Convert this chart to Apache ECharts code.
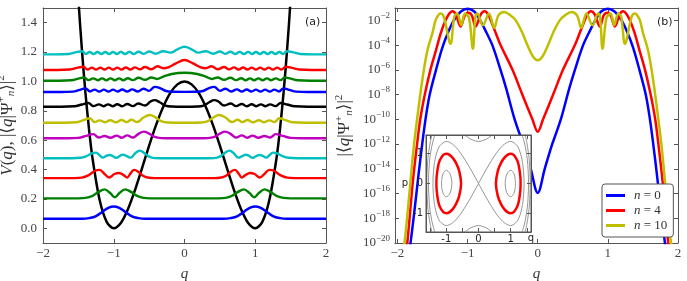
<!DOCTYPE html>
<html>
<head>
<meta charset="utf-8">
<script src="https://cdn.jsdelivr.net/npm/echarts@6/dist/echarts.min.js"></script>
<style>
html, body { margin: 0; padding: 0; background: #fff; }
#chart { width: 687px; height: 281px; }
</style>
</head>
<body>
<div id="chart"></div>
<script>
// ---- data ----
var qTicks = [-2, -1, 0, 1, 2];
var vTicks = [0, 0.2, 0.4, 0.6, 0.8, 1.0, 1.2, 1.4];
var logTicks = [-20, -18, -16, -14, -12, -10, -8, -6, -4, -2];
var insetTicks = [-1.5, -1, -0.5, 0, 0.5, 1, 1.5];
var insetLabels = [-1, 0, 1];

// panel (a): double-well potential
var potential = [[-1.7,3.572],[-1.6,2.434],[-1.5,1.563],[-1.45,1.216],[-1.4,0.922],[-1.35,0.677],[-1.3,0.476],[-1.2,0.194],[-1.1,0.044],[-1,0],[-0.9,0.036],[-0.8,0.13],[-0.7,0.26],[-0.6,0.41],[-0.5,0.563],[-0.4,0.706],[-0.3,0.828],[-0.2,0.922],[-0.1,0.98],[0,1],[0.1,0.98],[0.2,0.922],[0.3,0.828],[0.4,0.706],[0.5,0.563],[0.6,0.41],[0.7,0.26],[0.8,0.13],[0.9,0.036],[1,0],[1.1,0.044],[1.2,0.194],[1.3,0.476],[1.35,0.677],[1.4,0.922],[1.45,1.216],[1.5,1.563],[1.6,2.434],[1.7,3.572]];

// panel (a): level of each state and |psi|^2 above that level
var levels = [0.065, 0.204, 0.342, 0.477, 0.613, 0.719, 0.828, 0.928, 1.005, 1.078, 1.184];
var stateColors = ['#0000ff', '#008000', '#ff0000', '#00bfbf', '#bf00bf', '#bfbf00', '#000000', '#0000ff', '#008000', '#ff0000', '#00bfbf'];

var dens0 = [[-2,0],[-1.45,0],[-1.35,0.004],[-1.25,0.018],[-1.15,0.052],[-1.07,0.076],[-1,0.084],[-0.93,0.076],[-0.85,0.052],[-0.75,0.018],[-0.65,0.004],[-0.55,0],[0,0],[0.55,0],[0.65,0.004],[0.75,0.018],[0.85,0.052],[0.93,0.076],[1,0.084],[1.07,0.076],[1.15,0.052],[1.25,0.018],[1.35,0.004],[1.45,0],[2,0]];
var dens2 = [[-2,0],[-1.5,0],[-1.4,0.003],[-1.3,0.017],[-1.22,0.042],[-1.13,0.061],[-1.05,0.036],[-0.985,0.008],[-0.92,0.036],[-0.84,0.061],[-0.75,0.042],[-0.67,0.017],[-0.58,0.003],[-0.48,0],[0,0],[0.48,0],[0.58,0.003],[0.67,0.017],[0.75,0.042],[0.84,0.061],[0.92,0.036],[0.985,0.008],[1.05,0.036],[1.13,0.061],[1.22,0.042],[1.3,0.017],[1.4,0.003],[1.5,0],[2,0]];
var dens4 = [[-2,0],[-1.55,0],[-1.45,0.003],[-1.36,0.018],[-1.27,0.048],[-1.2,0.056],[-1.13,0.028],[-1.065,0.004],[-0.99,0.028],[-0.925,0.035],[-0.86,0.02],[-0.81,0.004],[-0.76,0.034],[-0.71,0.056],[-0.65,0.042],[-0.58,0.014],[-0.5,0.002],[-0.42,0],[0,0],[0.42,0],[0.5,0.002],[0.58,0.014],[0.65,0.042],[0.71,0.056],[0.76,0.034],[0.81,0.004],[0.86,0.02],[0.925,0.035],[0.99,0.028],[1.065,0.004],[1.13,0.028],[1.2,0.056],[1.27,0.048],[1.36,0.018],[1.45,0.003],[1.55,0],[2,0]];
var dens6 = [[-2,0],[-1.6,0],[-1.47,0.003],[-1.38,0.016],[-1.31,0.033],[-1.25,0.038],[-1.2,0.02],[-1.155,0.004],[-1.105,0.016],[-1.055,0.022],[-1.005,0.012],[-0.96,0.003],[-0.912,0.017],[-0.865,0.025],[-0.815,0.014],[-0.76,0.004],[-0.7,0.032],[-0.635,0.052],[-0.57,0.036],[-0.5,0.011],[-0.42,0.001],[-0.34,0],[0,0],[0.34,0],[0.42,0.001],[0.5,0.011],[0.57,0.036],[0.635,0.052],[0.7,0.032],[0.76,0.004],[0.815,0.014],[0.865,0.025],[0.912,0.017],[0.96,0.003],[1.005,0.012],[1.055,0.022],[1.105,0.016],[1.155,0.004],[1.2,0.02],[1.25,0.038],[1.31,0.033],[1.38,0.016],[1.47,0.003],[1.6,0],[2,0]];
var dens8 = [[-2,0],[-1.65,0],[-1.5,0.003],[-1.39,0.016],[-1.29,0.028],[-1.21,0.005],[-1.13,0.016],[-1.045,0.004],[-0.96,0.018],[-0.885,0.004],[-0.81,0.02],[-0.73,0.005],[-0.65,0.03],[-0.575,0.045],[-0.5,0.032],[-0.42,0.009],[-0.33,0.001],[-0.25,0],[0,0],[0.25,0],[0.33,0.001],[0.42,0.009],[0.5,0.032],[0.575,0.045],[0.65,0.03],[0.73,0.005],[0.81,0.02],[0.885,0.004],[0.96,0.018],[1.045,0.004],[1.13,0.016],[1.21,0.005],[1.29,0.028],[1.39,0.016],[1.5,0.003],[1.65,0],[2,0]];
var dens10 = [[-2,0],[-1.7,0],[-1.53,0.003],[-1.43,0.018],[-1.34,0.03],[-1.27,0.005],[-1.2,0.016],[-1.125,0.003],[-1.05,0.017],[-0.97,0.003],[-0.89,0.018],[-0.82,0.004],[-0.75,0.02],[-0.67,0.005],[-0.58,0.035],[-0.49,0.052],[-0.41,0.036],[-0.33,0.011],[-0.24,0.001],[-0.15,0],[0,0],[0.15,0],[0.24,0.001],[0.33,0.011],[0.41,0.036],[0.49,0.052],[0.58,0.035],[0.67,0.005],[0.75,0.02],[0.82,0.004],[0.89,0.018],[0.97,0.003],[1.05,0.017],[1.125,0.003],[1.2,0.016],[1.27,0.005],[1.34,0.03],[1.43,0.018],[1.53,0.003],[1.7,0],[2,0]];
var dens12 = [[-2,0],[-1.75,0],[-1.56,0.003],[-1.45,0.015],[-1.36,0.025],[-1.285,0.004],[-1.21,0.016],[-1.145,0.003],[-1.08,0.016],[-1.015,0.003],[-0.95,0.017],[-0.88,0.003],[-0.81,0.018],[-0.73,0.004],[-0.655,0.022],[-0.56,0.008],[-0.48,0.035],[-0.42,0.045],[-0.35,0.03],[-0.27,0.008],[-0.18,0.001],[-0.1,0],[0.1,0],[0.18,0.001],[0.27,0.008],[0.35,0.03],[0.42,0.045],[0.48,0.035],[0.56,0.008],[0.655,0.022],[0.73,0.004],[0.81,0.018],[0.88,0.003],[0.95,0.017],[1.015,0.003],[1.08,0.016],[1.145,0.003],[1.21,0.016],[1.285,0.004],[1.36,0.025],[1.45,0.015],[1.56,0.003],[1.75,0],[2,0]];
var dens14 = [[-2,0],[-1.75,0],[-1.58,0.003],[-1.48,0.015],[-1.4,0.025],[-1.335,0.004],[-1.27,0.016],[-1.205,0.003],[-1.14,0.016],[-1.075,0.003],[-1.01,0.016],[-0.945,0.003],[-0.88,0.017],[-0.81,0.003],[-0.74,0.018],[-0.66,0.004],[-0.58,0.022],[-0.5,0.008],[-0.42,0.035],[-0.34,0.025],[-0.26,0.007],[-0.17,0.002],[0,0.001],[0.17,0.002],[0.26,0.007],[0.34,0.025],[0.42,0.035],[0.5,0.008],[0.58,0.022],[0.66,0.004],[0.74,0.018],[0.81,0.003],[0.88,0.017],[0.945,0.003],[1.01,0.016],[1.075,0.003],[1.14,0.016],[1.205,0.003],[1.27,0.016],[1.335,0.004],[1.4,0.025],[1.48,0.015],[1.58,0.003],[1.75,0],[2,0]];
var dens16 = [[-2,0],[-1.78,0],[-1.6,0.003],[-1.5,0.014],[-1.42,0.022],[-1.355,0.004],[-1.29,0.016],[-1.225,0.003],[-1.165,0.016],[-1.105,0.003],[-1.045,0.016],[-0.985,0.003],[-0.925,0.016],[-0.865,0.003],[-0.8,0.017],[-0.73,0.004],[-0.65,0.02],[-0.56,0.006],[-0.47,0.022],[-0.39,0.012],[-0.3,0.028],[-0.18,0.046],[0,0.054],[0.18,0.046],[0.3,0.028],[0.39,0.012],[0.47,0.022],[0.56,0.006],[0.65,0.02],[0.73,0.004],[0.8,0.017],[0.865,0.003],[0.925,0.016],[0.985,0.003],[1.045,0.016],[1.105,0.003],[1.165,0.016],[1.225,0.003],[1.29,0.016],[1.355,0.004],[1.42,0.022],[1.5,0.014],[1.6,0.003],[1.78,0],[2,0]];
var dens18 = [[-2,0],[-1.8,0],[-1.62,0.003],[-1.52,0.014],[-1.43,0.022],[-1.37,0.003],[-1.31,0.016],[-1.25,0.003],[-1.19,0.016],[-1.13,0.003],[-1.07,0.016],[-1.01,0.003],[-0.95,0.016],[-0.89,0.003],[-0.83,0.017],[-0.765,0.003],[-0.7,0.018],[-0.63,0.004],[-0.56,0.02],[-0.47,0.005],[-0.38,0.025],[-0.3,0.012],[-0.23,0.018],[-0.12,0.045],[0,0.068],[0.12,0.045],[0.23,0.018],[0.3,0.012],[0.38,0.025],[0.47,0.005],[0.56,0.02],[0.63,0.004],[0.7,0.018],[0.765,0.003],[0.83,0.017],[0.89,0.003],[0.95,0.016],[1.01,0.003],[1.07,0.016],[1.13,0.003],[1.19,0.016],[1.25,0.003],[1.31,0.016],[1.37,0.003],[1.43,0.022],[1.52,0.014],[1.62,0.003],[1.8,0],[2,0]];
var dens20 = [[-2,0],[-1.82,0],[-1.64,0.003],[-1.54,0.014],[-1.45,0.022],[-1.395,0.003],[-1.34,0.016],[-1.285,0.003],[-1.23,0.016],[-1.175,0.003],[-1.12,0.016],[-1.065,0.003],[-1.01,0.016],[-0.955,0.003],[-0.9,0.017],[-0.84,0.003],[-0.78,0.017],[-0.715,0.003],[-0.65,0.018],[-0.575,0.004],[-0.5,0.02],[-0.41,0.005],[-0.3,0.022],[-0.2,0.012],[-0.1,0.035],[0,0.052],[0.1,0.035],[0.2,0.012],[0.3,0.022],[0.41,0.005],[0.5,0.02],[0.575,0.004],[0.65,0.018],[0.715,0.003],[0.78,0.017],[0.84,0.003],[0.9,0.017],[0.955,0.003],[1.01,0.016],[1.065,0.003],[1.12,0.016],[1.175,0.003],[1.23,0.016],[1.285,0.003],[1.34,0.016],[1.395,0.003],[1.45,0.022],[1.54,0.014],[1.64,0.003],[1.82,0],[2,0]];
var densities = [dens0, dens2, dens4, dens6, dens8, dens10, dens12, dens14, dens16, dens18, dens20];

// panel (b): log10 of |<q|psi>|^2
var log0 = [[-2,-26],[-1.9,-23.5],[-1.814,-20],[-1.76,-17.5],[-1.7,-14.5],[-1.647,-12],[-1.6,-10],[-1.54,-8],[-1.45,-6],[-1.36,-4.2],[-1.28,-3],[-1.196,-2],[-1.1,-1.3],[-1,-1.06],[-0.9,-1.3],[-0.82,-2],[-0.73,-3],[-0.647,-4],[-0.53,-6],[-0.45,-7.5],[-0.34,-9.8],[-0.27,-11],[-0.195,-12.2],[-0.1,-14],[0,-15.95],[0.1,-14],[0.195,-12.2],[0.27,-11],[0.34,-9.8],[0.45,-7.5],[0.53,-6],[0.647,-4],[0.73,-3],[0.82,-2],[0.9,-1.3],[1,-1.06],[1.1,-1.3],[1.196,-2],[1.28,-3],[1.36,-4.2],[1.45,-6],[1.54,-8],[1.6,-10],[1.647,-12],[1.7,-14.5],[1.76,-17.5],[1.814,-20],[1.9,-23.5],[2,-26]];
var log4 = [[-2,-26],[-1.93,-23],[-1.86,-20],[-1.78,-15],[-1.72,-12],[-1.675,-10],[-1.61,-8],[-1.53,-6],[-1.45,-4.4],[-1.38,-3],[-1.314,-2],[-1.26,-1.45],[-1.219,-1.27],[-1.17,-1.5],[-1.1,-2.5],[-1.04,-1.6],[-0.99,-1.38],[-0.94,-1.6],[-0.886,-2.5],[-0.81,-1.5],[-0.753,-1.27],[-0.7,-1.6],[-0.67,-2],[-0.6,-3],[-0.53,-4],[-0.36,-6],[-0.22,-8],[-0.076,-10],[0,-11],[0.076,-10],[0.22,-8],[0.36,-6],[0.53,-4],[0.6,-3],[0.67,-2],[0.7,-1.6],[0.753,-1.27],[0.81,-1.5],[0.886,-2.5],[0.94,-1.6],[0.99,-1.38],[1.04,-1.6],[1.1,-2.5],[1.17,-1.5],[1.219,-1.27],[1.26,-1.45],[1.314,-2],[1.38,-3],[1.45,-4.4],[1.53,-6],[1.61,-8],[1.675,-10],[1.72,-12],[1.78,-15],[1.86,-20],[1.93,-23],[2,-26]];
var log10 = [[-2.05,-25],[-1.98,-23],[-1.9,-20],[-1.83,-16],[-1.767,-12.2],[-1.72,-10],[-1.65,-7],[-1.576,-4.5],[-1.5,-3],[-1.457,-2],[-1.42,-1.6],[-1.386,-1.45],[-1.34,-1.7],[-1.243,-3.9],[-1.19,-1.7],[-1.147,-1.45],[-1.09,-2.4],[-1.038,-1.45],[-0.98,-1.8],[-0.924,-4.3],[-0.89,-1.8],[-0.862,-1.45],[-0.781,-2.4],[-0.695,-1.45],[-0.62,-2.6],[-0.56,-1.6],[-0.48,-1.33],[-0.4,-1.55],[-0.314,-2],[-0.22,-3],[-0.147,-4],[-0.07,-4.9],[0,-5.23],[0.07,-4.9],[0.147,-4],[0.22,-3],[0.314,-2],[0.4,-1.55],[0.48,-1.33],[0.56,-1.6],[0.62,-2.6],[0.695,-1.45],[0.781,-2.4],[0.862,-1.45],[0.89,-1.8],[0.924,-4.3],[0.98,-1.8],[1.038,-1.45],[1.09,-2.4],[1.147,-1.45],[1.19,-1.7],[1.243,-3.9],[1.34,-1.7],[1.386,-1.45],[1.42,-1.6],[1.457,-2],[1.5,-3],[1.576,-4.5],[1.65,-7],[1.72,-10],[1.767,-12.2],[1.83,-16],[1.9,-20],[1.98,-23],[2.05,-25]];
var logNames = ['n = 0', 'n = 4', 'n = 10'];
var logColors = ['#0000ff', '#ff0000', '#bfbf00'];

// inset: phase-space contours (q, p)
var orbitSmallL = [[-1.147,0],[-1.14,0.143],[-1.1,0.334],[-1,0.447],[-0.9,0.357],[-0.85,0.214],[-0.827,0],[-0.85,-0.214],[-0.9,-0.357],[-1,-0.447],[-1.1,-0.334],[-1.14,-0.143],[-1.147,0]];
var orbitSmallR = [[1.147,0],[1.14,0.143],[1.1,0.334],[1,0.447],[0.9,0.357],[0.85,0.214],[0.827,0],[0.85,-0.214],[0.9,-0.357],[1,-0.447],[1.1,-0.334],[1.14,-0.143],[1.147,0]];
var orbitRedL = [[-1.307,0],[-1.3,0.219],[-1.25,0.606],[-1.2,0.783],[-1.1,0.955],[-1,1],[-0.9,0.963],[-0.8,0.861],[-0.7,0.693],[-0.6,0.425],[-0.541,0],[-0.6,-0.425],[-0.7,-0.693],[-0.8,-0.861],[-0.9,-0.963],[-1,-1],[-1.1,-0.955],[-1.2,-0.783],[-1.25,-0.606],[-1.3,-0.219],[-1.307,0]];
var orbitRedR = [[1.307,0],[1.3,0.219],[1.25,0.606],[1.2,0.783],[1.1,0.955],[1,1],[0.9,0.963],[0.8,0.861],[0.7,0.693],[0.6,0.425],[0.541,0],[0.6,-0.425],[0.7,-0.693],[0.8,-0.861],[0.9,-0.963],[1,-1],[1.1,-0.955],[1.2,-0.783],[1.25,-0.606],[1.3,-0.219],[1.307,0]];
var separatrixL = [[0,0],[-0.2,0.396],[-0.4,0.767],[-0.6,1.087],[-0.8,1.319],[-1,1.414],[-1.2,1.27],[-1.3,1.023],[-1.35,0.804],[-1.38,0.603],[-1.41,0.218],[-1.414,0],[-1.41,-0.218],[-1.38,-0.603],[-1.35,-0.804],[-1.3,-1.023],[-1.2,-1.27],[-1,-1.414],[-0.8,-1.319],[-0.6,-1.087],[-0.4,-0.767],[-0.2,-0.396],[0,0]];
var separatrixR = [[0,0],[0.2,0.396],[0.4,0.767],[0.6,1.087],[0.8,1.319],[1,1.414],[1.2,1.27],[1.3,1.023],[1.35,0.804],[1.38,0.603],[1.41,0.218],[1.414,0],[1.41,-0.218],[1.38,-0.603],[1.35,-0.804],[1.3,-1.023],[1.2,-1.27],[1,-1.414],[0.8,-1.319],[0.6,-1.087],[0.4,-0.767],[0.2,-0.396],[0,0]];
var outerTop = [[-0.45,1.652],[-0.4,1.609],[-0.3,1.531],[-0.2,1.469],[0,1.414],[0.2,1.469],[0.3,1.531],[0.4,1.609],[0.45,1.652]];
var outerBottom = [[-0.45,-1.652],[-0.4,-1.609],[-0.3,-1.531],[-0.2,-1.469],[0,-1.414],[0.2,-1.469],[0.3,-1.531],[0.4,-1.609],[0.45,-1.652]];
var outerLeft = [[-1.35,1.65],[-1.4,1.469],[-1.45,1.253],[-1.5,0.935],[-1.53,0.636],[-1.554,0],[-1.53,-0.636],[-1.5,-0.935],[-1.45,-1.253],[-1.4,-1.469],[-1.35,-1.65]];
var outerRight = [[1.35,1.65],[1.4,1.469],[1.45,1.253],[1.5,0.935],[1.53,0.636],[1.554,0],[1.53,-0.636],[1.5,-0.935],[1.45,-1.253],[1.4,-1.469],[1.35,-1.65]];
var edgeLeft = [[-1.44,1.67],[-1.5,1.369],[-1.55,1.03],[-1.58,0.722],[-1.607,0],[-1.58,-0.722],[-1.55,-1.03],[-1.5,-1.369],[-1.44,-1.67]];
var edgeRight = [[1.44,1.67],[1.5,1.369],[1.55,1.03],[1.58,0.722],[1.607,0],[1.58,-0.722],[1.55,-1.03],[1.5,-1.369],[1.44,-1.67]];
var grayOrbits = [orbitSmallL, orbitSmallR, separatrixL, separatrixR, outerTop, outerBottom, outerLeft, outerRight, edgeLeft, edgeRight];
var redOrbits = [orbitRedL, orbitRedR];

// ---- styling ----
var SERIF = '"Liberation Serif", "DejaVu Serif", serif';
var SANS = '"DejaVu Sans", "Liberation Sans", sans-serif';
var FRAME = '#555';
var LABEL = '#444';

function minus(v) { return String(v).replace('-', '\u2212'); }

function frameAxis(gridIndex, position, min, max, ticks, label, extra) {
  var ax = {
    type: 'value', gridIndex: gridIndex, position: position, min: min, max: max,
    axisLine: { show: true, onZero: false, lineStyle: { color: FRAME, width: 1 } },
    axisTick: { show: true, inside: true, length: 4, customValues: ticks, lineStyle: { color: FRAME } },
    axisLabel: label || { show: false },
    splitLine: { show: false }
  };
  return Object.assign(ax, extra || {});
}

var serifLabel = function (values, fmt, margin) {
  return { show: true, customValues: values, formatter: fmt, margin: margin,
    color: LABEL, fontFamily: SERIF, fontSize: 13 };
};

function nameRich(size) {
  return {
    i: { fontFamily: SERIF, fontSize: size, fontStyle: 'italic', color: '#333' },
    r: { fontFamily: SERIF, fontSize: size, color: '#333' },
    sp: { fontFamily: SERIF, fontSize: size * 0.65, color: '#333', padding: [0, 0, size * 0.65, 0] },
    sb: { fontFamily: SERIF, fontSize: size * 0.65, fontStyle: 'italic', color: '#333', padding: [size * 0.5, 0, 0, 0] }
  };
}

var xAxes = [
  frameAxis(0, 'bottom', -2, 2, qTicks, serifLabel(qTicks, minus, 4), {
    name: 'q', nameLocation: 'middle', nameGap: 24,
    nameTextStyle: { fontFamily: SERIF, fontStyle: 'italic', fontSize: 15, color: '#333' } }),
  frameAxis(0, 'top', -2, 2, qTicks),
  frameAxis(1, 'bottom', -2.035, 2, qTicks, serifLabel(qTicks, minus, 4), {
    name: 'q', nameLocation: 'middle', nameGap: 24,
    nameTextStyle: { fontFamily: SERIF, fontStyle: 'italic', fontSize: 15, color: '#333' } }),
  frameAxis(1, 'top', -2.035, 2, qTicks),
  frameAxis(2, 'bottom', -1.63, 1.63, insetTicks, {
    show: true, customValues: insetLabels, formatter: function (v) { return String(v); },
    margin: 2, color: '#222', fontFamily: SANS, fontSize: 10 }, {
    z: 7, name: 'q', nameLocation: 'end', nameGap: 3,
    nameTextStyle: { fontFamily: SANS, fontSize: 10, color: '#222', align: 'right', verticalAlign: 'top', padding: [1, 0, 0, 0] } }),
  frameAxis(2, 'top', -1.63, 1.63, insetTicks, null, { z: 7 })
];

var yAxes = [
  frameAxis(0, 'left', -0.1, 1.5, vTicks, serifLabel(vTicks, function (v) { return v.toFixed(1); }, 6), {
    name: '{i|V}{r|(}{i|q}{r|), |\u27e8}{i|q}{r||\u03a8}{sp|+}{sb|n}{r|\u27e9|}{sp|2}',
    nameLocation: 'middle', nameGap: 20, nameTextStyle: { rich: nameRich(17) } }),
  frameAxis(0, 'right', -0.1, 1.5, vTicks),
  frameAxis(1, 'left', -20, -1, logTicks, {
    show: true, customValues: logTicks, margin: 5,
    formatter: function (v) { return '{b|10}{s|' + minus(v) + '}'; },
    rich: {
      b: { fontFamily: SERIF, fontSize: 13, color: LABEL },
      s: { fontFamily: SERIF, fontSize: 9, color: LABEL, padding: [0, 0, 9, 0] }
    } }, {
    name: '{r||\u27e8}{i|q}{r||\u03a8}{sp|+}{sb|n}{r|\u27e9|}{sp|2}',
    nameLocation: 'middle', nameGap: 39, nameTextStyle: { rich: nameRich(17) } }),
  frameAxis(1, 'right', -20, -1, logTicks),
  frameAxis(2, 'left', -1.63, 1.63, insetLabels, {
    show: true, customValues: insetLabels, formatter: function (v) { return String(v); },
    margin: 3, color: '#222', fontFamily: SANS, fontSize: 10 }, {
    z: 7, name: 'p', nameLocation: 'middle', nameGap: 16, nameRotate: 0,
    nameTextStyle: { fontFamily: SANS, fontSize: 10, color: '#222', padding: [0, 0, 6, 0] } }),
  frameAxis(2, 'right', -1.63, 1.63, insetLabels, null, { z: 7 })
];

var series = [];
series.push({
  type: 'line', xAxisIndex: 0, yAxisIndex: 0, data: potential, symbol: 'none', smooth: 0.3,
  lineStyle: { color: '#000', width: 2.5 }, z: 3
});
densities.forEach(function (pts, k) {
  series.push({
    type: 'line', xAxisIndex: 0, yAxisIndex: 0, symbol: 'none', smooth: 0.4,
    data: pts.map(function (p) { return [p[0], levels[k] + p[1]]; }),
    lineStyle: { color: stateColors[k], width: 2.4 }
  });
});
[log0, log4, log10].forEach(function (pts, k) {
  series.push({
    name: logNames[k], type: 'line', xAxisIndex: 2, yAxisIndex: 2, symbol: 'none', smooth: 0.35,
    data: pts, color: logColors[k], lineStyle: { color: logColors[k], width: 2.5 }
  });
});
grayOrbits.forEach(function (pts) {
  series.push({
    type: 'line', xAxisIndex: 4, yAxisIndex: 4, symbol: 'none', smooth: 0.3, z: 6,
    data: pts, lineStyle: { color: '#8a8a8a', width: 0.9 }
  });
});
redOrbits.forEach(function (pts) {
  series.push({
    type: 'line', xAxisIndex: 4, yAxisIndex: 4, symbol: 'none', smooth: 0.3, z: 6,
    data: pts, lineStyle: { color: '#ff0000', width: 2.5 }
  });
});

var chart = echarts.init(document.getElementById('chart'));
chart.setOption({
  animation: false,
  backgroundColor: '#fff',
  title: [
    { text: '(a)', left: 305, top: 17, padding: 0, textStyle: { fontFamily: SANS, fontSize: 11, fontWeight: 'normal', color: '#222' } },
    { text: '(b)', left: 657, top: 17, padding: 0, textStyle: { fontFamily: SANS, fontSize: 11, fontWeight: 'normal', color: '#222' } }
  ],
  grid: [
    { left: 43, top: 8, width: 283, height: 235, containLabel: false, outerBoundsMode: 'none' },
    { left: 395, top: 8, width: 283, height: 235, containLabel: false, outerBoundsMode: 'none' },
    { left: 426, top: 135, width: 105, height: 97, containLabel: false, outerBoundsMode: 'none',
      show: true, z: 5, backgroundColor: '#fff', borderColor: FRAME, borderWidth: 1 }
  ],
  legend: {
    data: logNames, orient: 'vertical', left: 602, top: 184,
    padding: [5, 6, 5, 4], itemWidth: 19, itemHeight: 3, itemGap: 2, icon: 'rect',
    backgroundColor: '#fff', borderColor: FRAME, borderWidth: 1, borderRadius: 3,
    formatter: function (name) { return '{i|n}{r|' + name.slice(1) + '}'; },
    textStyle: { rich: {
      i: { fontFamily: SERIF, fontStyle: 'italic', fontSize: 13, color: '#333', padding: [0, 0, 0, 4], lineHeight: 15 },
      r: { fontFamily: SERIF, fontSize: 13, color: '#333', lineHeight: 15 }
    } }
  },
  xAxis: xAxes,
  yAxis: yAxes,
  series: series
});
</script>
</body>
</html>
